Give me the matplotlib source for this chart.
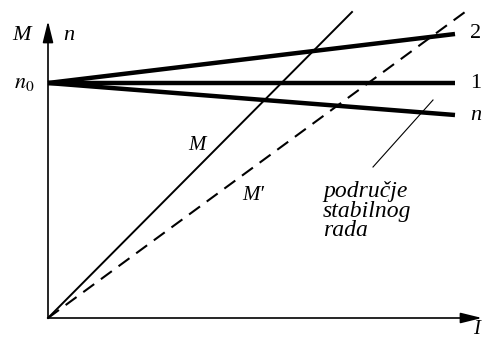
import matplotlib
matplotlib.use('Agg')
import matplotlib.pyplot as plt

# ─────────────────────────────────────────────
# Data (units: current I on x, M / n on y)
# ─────────────────────────────────────────────
N0        = 235
I_END     = 407
N_CURVES  = {'2': 284, '1': 235, 'n': 203}   # n at I_END
M_LINE    = ([0, 304], [0, 306])
M_PRIME   = ([0, 417], [0, 306])
POINTER   = ([325, 385], [151, 218])

SERIF = dict(family='Liberation Serif', style='italic', color='black')
ARROW = dict(arrowstyle='-|>,head_length=1.3,head_width=0.32',
             lw=1.2, color='black', shrinkA=0, shrinkB=0)

fig = plt.figure(figsize=(4.83, 3.41), dpi=100)
ax = fig.add_axes([0, 0, 1, 1])
ax.set_xlim(-48, 435)
ax.set_ylim(-23, 318)
ax.axis('off')

# axes with arrows
ax.annotate('', xy=(434, 0), xytext=(0, 0), arrowprops=ARROW)
ax.annotate('', xy=(0, 297), xytext=(0, 0), arrowprops=ARROW)

# speed curves
for name, n_end in N_CURVES.items():
    ax.plot([0, I_END], [N0, n_end], color='black', lw=3.2, solid_capstyle='butt')
    ax.text(I_END + 15, n_end, name, fontsize=16, ha='left', va='center',
            **(SERIF if name == 'n' else dict(family='Liberation Serif')))

# torque lines
ax.plot(*M_LINE, color='black', lw=1.4)
ax.plot(*M_PRIME, color='black', lw=1.5, ls=(0, (6.5, 4)))
ax.plot(*POINTER, color='black', lw=0.8)

# labels
ax.text(-26, 283, 'M', fontsize=16, ha='center', va='center', **SERIF)
ax.text(21, 283, 'n', fontsize=16, ha='center', va='center', **SERIF)
ax.text(-24, N0, '$n_0$', fontsize=16, ha='center', va='center',
        math_fontfamily='stix')
ax.text(149, 173, 'M', fontsize=15, ha='center', va='center', **SERIF)
ax.text(205, 123, "M′", fontsize=15, ha='center', va='center', **SERIF)
ax.text(275, 107, 'područje\nstabilnog\nrada', fontsize=17, ha='left',
        va='center', linespacing=0.88, **SERIF)
ax.text(432, -12, 'I', fontsize=15, ha='right', va='center', **SERIF)

fig.savefig('out.png', dpi=100)
